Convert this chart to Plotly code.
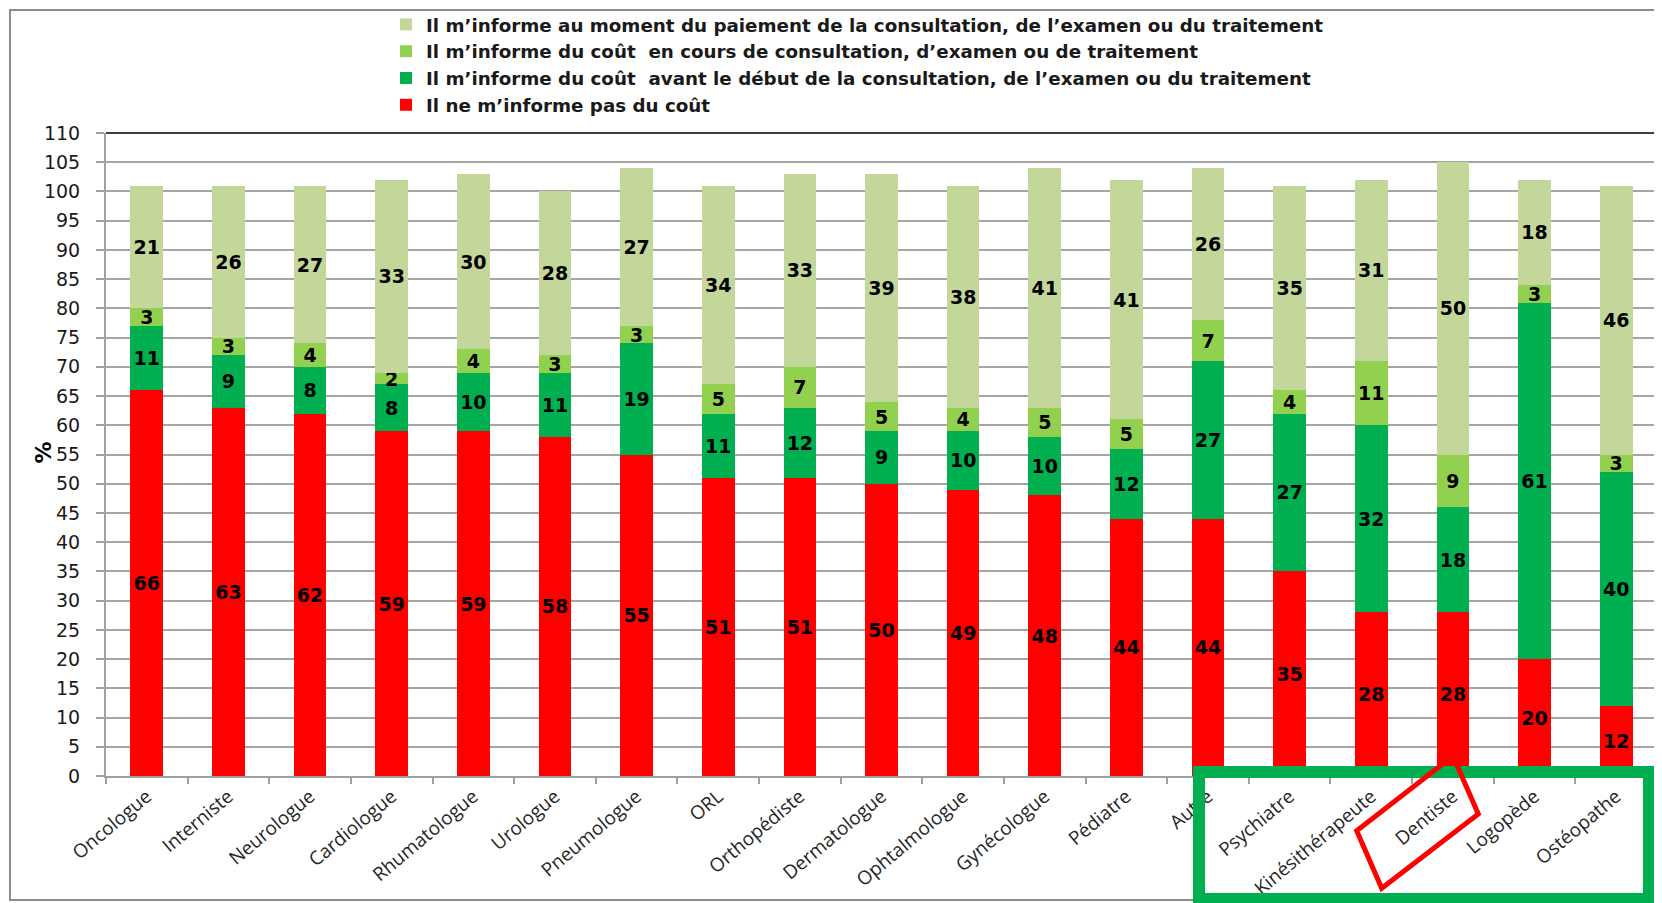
import plotly.graph_objects as go

categories = ["Oncologue", "Interniste", "Neurologue", "Cardiologue", "Rhumatologue",
              "Urologue", "Pneumologue", "ORL", "Orthopédiste", "Dermatologue",
              "Ophtalmologue", "Gynécologue", "Pédiatre", "Autre", "Psychiatre",
              "Kinésithérapeute", "Dentiste", "Logopède", "Ostéopathe"]

pas_informe = [66, 63, 62, 59, 59, 58, 55, 51, 51, 50, 49, 48, 44, 44, 35, 28, 28, 20, 12]
avant_debut = [11, 9, 8, 8, 10, 11, 19, 11, 12, 9, 10, 10, 12, 27, 27, 32, 18, 61, 40]
en_cours = [3, 3, 4, 2, 4, 3, 3, 5, 7, 5, 4, 5, 5, 7, 4, 11, 9, 3, 3]
au_paiement = [21, 26, 27, 33, 30, 28, 27, 34, 33, 39, 38, 41, 41, 26, 35, 31, 50, 18, 46]

series_names = [
    "Il ne m\u2019informe pas du coût",
    "Il m\u2019informe du coût  avant le début de la consultation, de l\u2019examen ou du traitement",
    "Il m\u2019informe du coût  en cours de consultation, d\u2019examen ou de traitement",
    "Il m\u2019informe au moment du paiement de la consultation, de l\u2019examen ou du traitement",
]
series_values = [pas_informe, avant_debut, en_cours, au_paiement]
series_colors = ["#FF0000", "#00B050", "#92D050", "#C4D79B"]

fig = go.Figure()
for i, (name, vals, col) in enumerate(zip(series_names, series_values, series_colors)):
    fig.add_trace(go.Bar(
        x=categories, y=vals, name=name, legendrank=100 - i,
        marker=dict(color=col, line=dict(width=0)),
        text=[str(v) for v in vals], textposition="inside",
        insidetextanchor="middle", textangle=0, constraintext="none",
        textfont=dict(family="DejaVu Sans", size=19, color="black", weight="bold"),
        hoverinfo="x+y+name",
    ))

# The page body adds an 8px offset; figure is sized so screen coordinates match.
OFF = 8
W, H = 1662 - OFF, 903 - OFF
L, R, T, B = 106, 1657, 133, 776          # plot area in screen pixels
pw, ph = R - L, B - T

def px(x):
    return (x - L) / pw

def py(y):
    return (B - y) / ph

shapes = [
    dict(type="line", xref="paper", yref="paper", x0=0, x1=1, y0=1, y1=1,
         line=dict(color="#404040", width=2)),
    dict(type="line", xref="paper", yref="paper", x0=1, x1=1, y0=0, y1=1,
         line=dict(color="#404040", width=2)),
    dict(type="rect", xref="paper", yref="paper", x0=px(10), x1=px(1668), y0=py(900), y1=py(10),
         line=dict(color="#8c8c8c", width=2)),
    dict(type="rect", xref="paper", yref="paper", x0=px(1199), x1=px(1649), y0=py(899), y1=py(772),
         line=dict(color="#00B050", width=12), layer="above"),
    dict(type="path", xref="paper", yref="paper", layer="above",
         path=(f"M{px(1453)},{py(756)} L{px(1478.3)},{py(814)} "
               f"L{px(1381.7)},{py(888.3)} L{px(1356.7)},{py(830.7)} Z"),
         line=dict(color="#FF0000", width=5)),
]

fig.update_layout(
    width=W, height=H,
    margin=dict(l=L - OFF, r=W - (R - OFF), t=T - OFF, b=H - (B - OFF), autoexpand=False),
    paper_bgcolor="white", plot_bgcolor="white",
    barmode="stack", bargap=0.6,
    uniformtext=dict(minsize=19, mode="show"),
    showlegend=True,
    legend=dict(x=px(386), y=py(6), xanchor="left", yanchor="top",
                traceorder="normal",
                font=dict(family="DejaVu Sans", size=18.3, color="#1a1a1a", weight="bold"),
                bgcolor="rgba(0,0,0,0)", itemclick=False),
    xaxis=dict(type="category", tickangle=-40, tickson="boundaries",
               ticks="outside", ticklen=6, tickwidth=2, tickcolor="#A0A0A0",
               showline=True, linecolor="#A0A0A0", linewidth=2,
               showgrid=False, automargin=False,
               tickfont=dict(family="Open Sans", size=19, color="#262626")),
    yaxis=dict(range=[0, 110], dtick=5, tick0=0,
               ticks="outside", ticklen=8, tickwidth=2, tickcolor="#A0A0A0",
               showline=True, linecolor="#A0A0A0", linewidth=2,
               showgrid=True, gridcolor="#A5A5A5", gridwidth=2,
               zeroline=False, automargin=False, ticklabelstandoff=12,
               tickfont=dict(family="DejaVu Sans", size=19, color="#1a1a1a")),
    shapes=shapes,
    annotations=[dict(text="<b>%</b>", xref="paper", yref="paper", x=px(28), y=py(453),
                      showarrow=False, textangle=-90,
                      font=dict(family="DejaVu Sans", size=22, color="black"))],
)

fig.write_html("out.html")
